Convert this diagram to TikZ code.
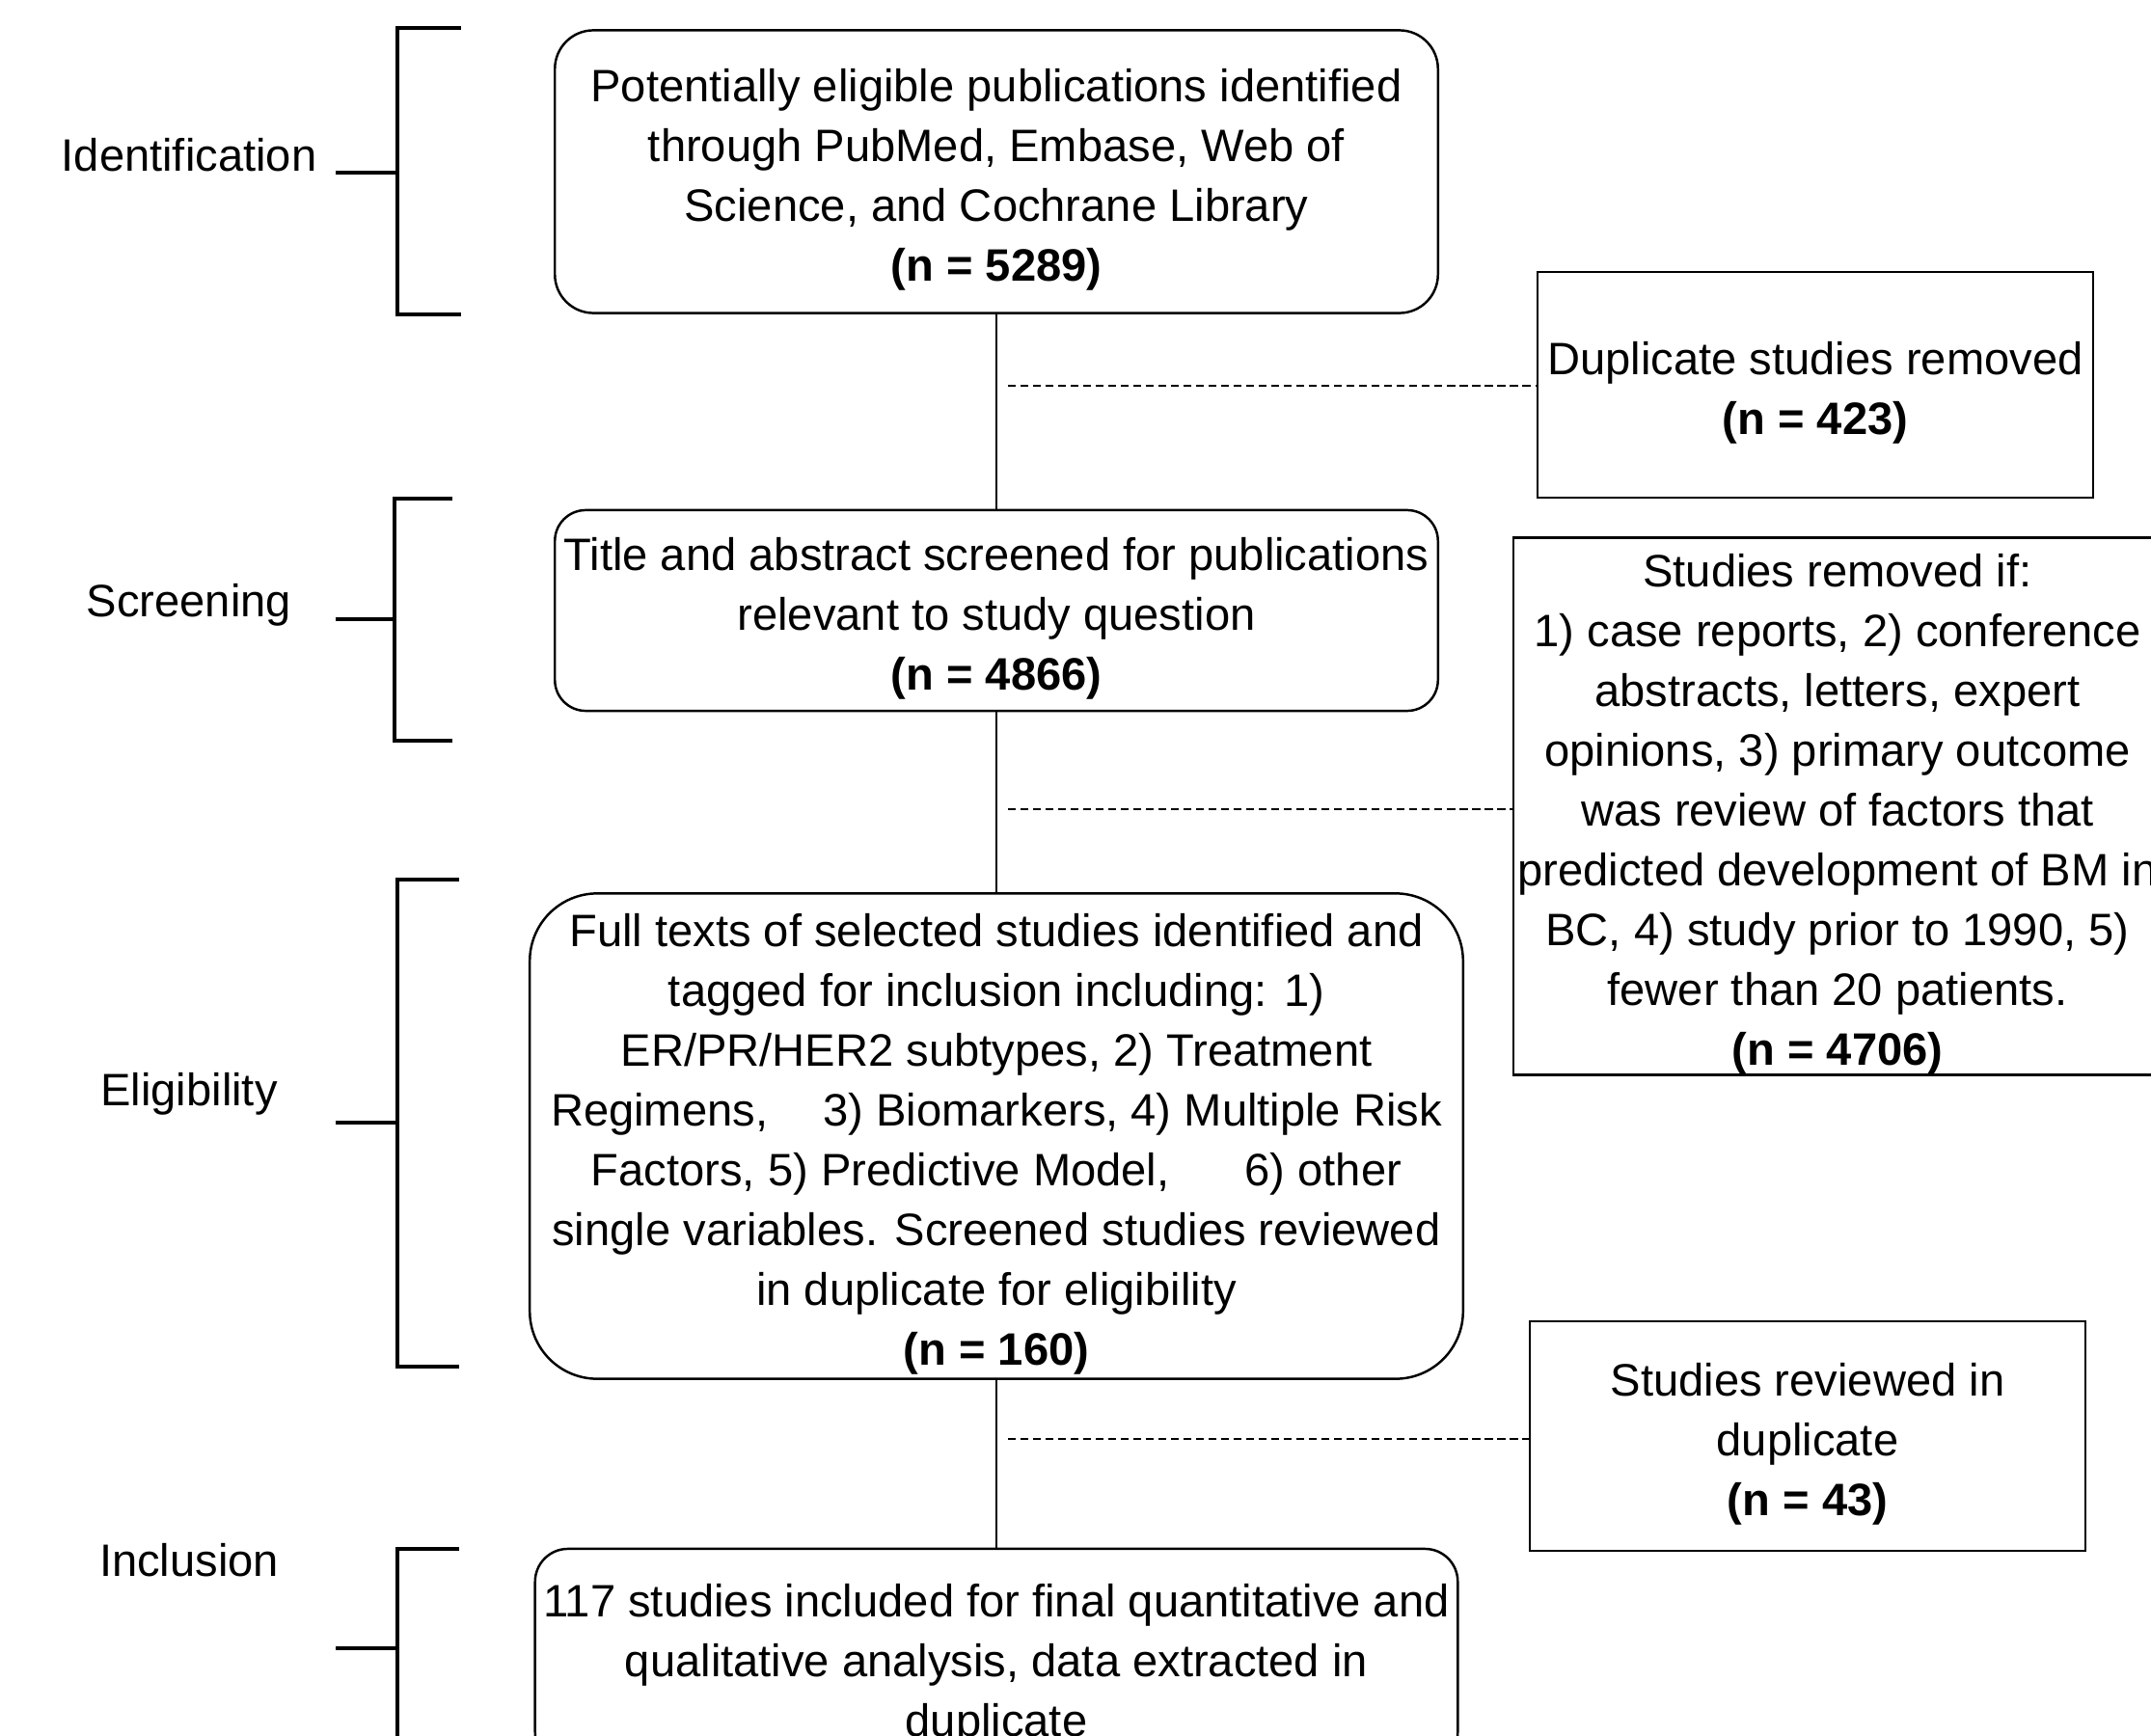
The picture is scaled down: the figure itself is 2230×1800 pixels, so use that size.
\documentclass[tikz,border=0pt]{standalone}
\usepackage{fontspec}
\setmainfont{Liberation Sans}
\newcommand{\boxtop}{\rule{0pt}{14.4pt}} % extra room above the first line

\begin{document}
\begin{tikzpicture}[
            x = 0.01cm, y = -0.01cm, % one unit per pixel, y going down
            line width = 0.7pt, % line style
            font = \fontsize{13.4}{17.6}\selectfont
        ]

        \tikzstyle{stage}=[
            draw = black,
            fill = white,
            align = center,
            inner sep = 0pt
        ]
        \tikzstyle{sidebox}=[
            draw = black,
            fill = white,
            align = center,
            inner sep = 0pt
        ]
        \tikzstyle{phase}=[inner sep = 0pt]
        \tikzstyle{bracket}=[line width = 1.3pt]
        \tikzstyle{dashline}=[dash pattern = on 2.3pt off 1.4pt]

        \useasboundingbox (0,0) rectangle (2230,1800);

        % main flow
        \node[stage, rounded corners = 0.4cm, minimum width = 9.15cm, minimum height = 2.93cm] (ident) at (1033,178) {\boxtop Potentially eligible publications identified\\ through PubMed, Embase, Web of\\ Science, and Cochrane Library\\ \textbf{(n = 5289)}};
        \node[stage, rounded corners = 0.32cm, minimum width = 9.15cm, minimum height = 2.08cm] (screen) at (1033,633) {\boxtop Title and abstract screened for publications\\ relevant to study question\\ \textbf{(n = 4866)}};
        \node[stage, rounded corners = 0.7cm, minimum width = 9.67cm, minimum height = 5.03cm] (elig) at (1033,1178) {\boxtop Full texts of selected studies identified and\\ tagged for inclusion including: 1)\\ ER/PR/HER2 subtypes, 2) Treatment\\ Regimens,\hspace{0.44cm} 3) Biomarkers, 4) Multiple Risk\\ Factors, 5) Predictive Model,\hspace{0.65cm} 6) other\\ single variables. Screened studies reviewed\\ in duplicate for eligibility\\ \textbf{(n = 160)}};
        \node[stage, rounded corners = 0.34cm, minimum width = 9.56cm, minimum height = 2.24cm] (incl) at (1033,1718) {\boxtop 117 studies included for final quantitative and\\ qualitative analysis, data extracted in\\ duplicate};

        % removed studies
        \node[sidebox, minimum width = 5.76cm, minimum height = 2.34cm] (dup) at (1882,399) {\boxtop Duplicate studies removed\\ \textbf{(n = 423)}};
        \node[sidebox, minimum width = 6.72cm, minimum height = 5.57cm] (removed) at (1905,836) {\boxtop Studies removed if:\\ 1) case reports, 2) conference\\ abstracts, letters, expert\\ opinions, 3) primary outcome\\ was review of factors that\\ predicted development of BM in\\ BC, 4) study prior to 1990, 5)\\ fewer than 20 patients.\\ \textbf{(n = 4706)}};
        \node[sidebox, minimum width = 5.76cm, minimum height = 2.38cm] (rev) at (1874,1489) {\boxtop Studies reviewed in\\ duplicate\\ \textbf{(n = 43)}};

        \draw (ident.south) -- (ident.south |- screen.north);
        \draw (screen.south) -- (screen.south |- elig.north);
        \draw (elig.south) -- (elig.south |- incl.north);

        \coordinate (dupstart) at (1045,400);
        \coordinate (removedstart) at (1045,839);
        \coordinate (revstart) at (1045,1492);
        \draw[dashline] (dupstart) -- (dupstart -| dup.west);
        \draw[dashline] (removedstart) -- (removedstart -| removed.west);
        \draw[dashline] (revstart) -- (revstart -| rev.west);

        % phases on the left
        \node[phase] (identlabel) at (196,161) {Identification};
        \node[phase] (screenlabel) at (196,627) {Screening};
        \node[phase] (eliglabel) at (196,1134) {Eligibility};
        \node[phase] (incllabel) at (196,1618) {Inclusion};

        \draw[bracket] (478,29) -- (412,29) -- (412,326) -- (478,326);
        \draw[bracket] (412,179) -- (348,179);
        \draw[bracket] (469,517) -- (409,517) -- (409,768) -- (469,768);
        \draw[bracket] (409,642) -- (348,642);
        \draw[bracket] (476,912) -- (412,912) -- (412,1417) -- (476,1417);
        \draw[bracket] (412,1164) -- (348,1164);
        \draw[bracket] (476,1606) -- (412,1606) -- (412,1812) -- (476,1812);
        \draw[bracket] (412,1709) -- (348,1709);
    \end{tikzpicture}
\end{document}
